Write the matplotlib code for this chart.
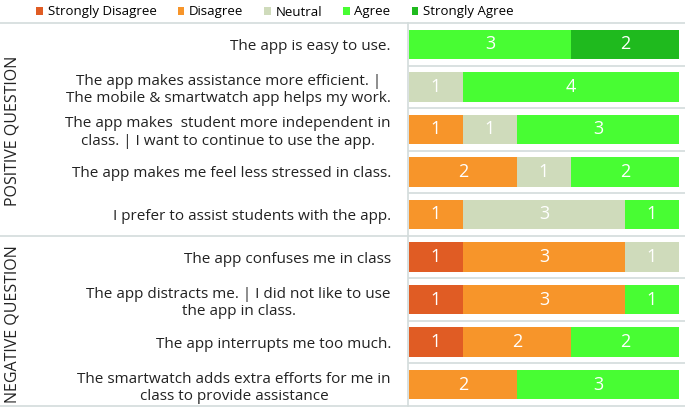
import matplotlib
matplotlib.use("Agg")
import matplotlib.pyplot as plt
from matplotlib.patches import Patch
from matplotlib.lines import Line2D
import numpy as np

plt.rcParams['font.family'] = ['Open Sans', 'DejaVu Sans']

questions = [
    "The app is easy to use.",
    "The app makes assistance more efficient. |\nThe mobile & smartwatch app helps my work.",
    "The app makes  student more independent in\nclass. | I want to continue to use the app.",
    "The app makes me feel less stressed in class.",
    "I prefer to assist students with the app.",
    "The app confuses me in class",
    "The app distracts me. | I did not like to use\nthe app in class.",
    "The app interrupts me too much.",
    "The smartwatch adds extra efforts for me in\nclass to provide assistance",
]
categories = ["Strongly Disagree", "Disagree", "Neutral", "Agree", "Strongly Agree"]
strongly_disagree = [0, 0, 0, 0, 0, 1, 1, 1, 0]
disagree          = [0, 0, 1, 2, 1, 3, 3, 2, 2]
neutral           = [0, 1, 1, 1, 3, 1, 0, 0, 0]
agree             = [3, 4, 3, 2, 1, 0, 1, 2, 3]
strongly_agree    = [2, 0, 0, 0, 0, 0, 0, 0, 0]
groups = ["POSITIVE QUESTION", "NEGATIVE QUESTION"]

colors = ["#E05C24", "#F7952A", "#CFDBBB", "#48FD33", "#1FBA1E"]
series = [strongly_disagree, disagree, neutral, agree, strongly_agree]

W, H = 685, 408
fig = plt.figure(figsize=(W / 100, H / 100), dpi=100)
top_px, bot_px = 23, 406
left_px, right_px = 409, 679
ax = fig.add_axes([left_px / W, 1 - bot_px / H, (right_px - left_px) / W, (bot_px - top_px) / H])

n = len(questions)
y = np.arange(n)
left = np.zeros(n)
for vals, col in zip(series, colors):
    vals = np.array(vals, dtype=float)
    ax.barh(y, vals, left=left, height=0.69, color=col, edgecolor='none')
    for yi, (l, v) in enumerate(zip(left, vals)):
        if v > 0:
            ax.text(l + v / 2, yi, f"{int(v)}", ha='center', va='center',
                    color='white', fontsize=13)
    left += vals

ax.set_xlim(0, 5)
ax.set_ylim(n - 0.5, -0.5)
ax.set_xticks([])
ax.set_yticks(y)
ax.set_yticklabels(questions, fontsize=11, color='#222222', multialignment='center',
                   linespacing=1.2)
ax.tick_params(axis='y', length=0, pad=13)
for s in ax.spines.values():
    s.set_visible(False)

grid_col = '#D3DCDB'
row_h = (bot_px - top_px) / n
for i in range(n + 1):
    ypx = top_px + i * row_h
    yf = 1 - ypx / H
    x0 = 0.0 if i in (0, 5, n) else left_px / W
    fig.add_artist(Line2D([x0, 1.0], [yf, yf], color=grid_col, lw=1.2))
fig.add_artist(Line2D([(left_px - 1) / W] * 2, [1 - top_px / H, 1 - bot_px / H], color=grid_col, lw=1.2))

fig.text(13 / W, 1 - 131 / H, groups[0], rotation=90, ha='center', va='center', fontsize=11.5, color='#222222')
fig.text(13 / W, 1 - 324 / H, groups[1], rotation=90, ha='center', va='center', fontsize=11.5, color='#222222')

handles = [Patch(facecolor=c, edgecolor='none') for c in colors]
fig.legend(handles, categories, loc='center', bbox_to_anchor=(275 / W, 1 - 12 / H), ncol=5,
           frameon=False, fontsize=9.5, handlelength=0.5, handleheight=0.6,
           handletextpad=0.35, columnspacing=1.6, borderpad=0, borderaxespad=0)

fig.savefig("out.png", dpi=100)
